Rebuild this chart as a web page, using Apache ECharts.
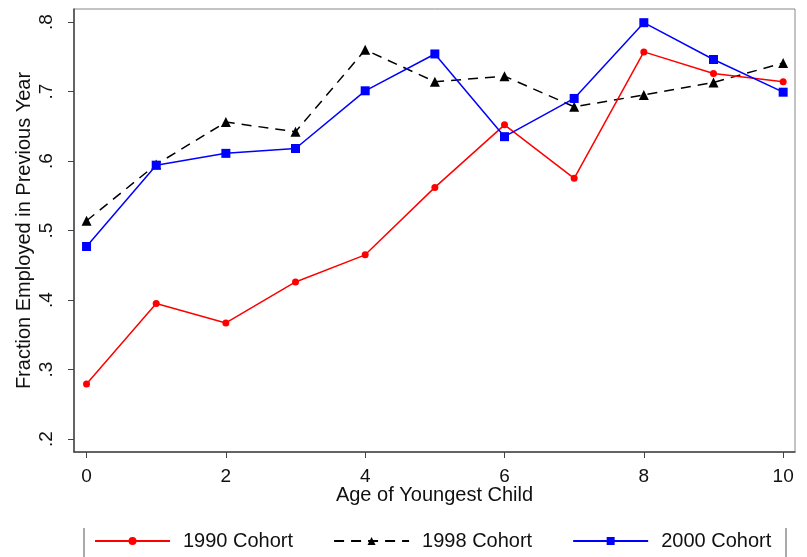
<!DOCTYPE html>
<html>
<head>
<meta charset="utf-8">
<script src="https://cdn.jsdelivr.net/npm/echarts@6/dist/echarts.min.js"></script>
<style>html,body{margin:0;padding:0;background:#fff}#c{width:807px;height:557px}</style>
</head>
<body>
<div id="c"></div>
<script>
var ages = [0, 1, 2, 3, 4, 5, 6, 7, 8, 9, 10];
var cohort1990 = [0.279, 0.395, 0.367, 0.426, 0.465, 0.562, 0.652, 0.575, 0.757, 0.726, 0.714];
var cohort1998 = [0.514, 0.595, 0.656, 0.642, 0.760, 0.714, 0.722, 0.678, 0.695, 0.713, 0.741];
var cohort2000 = [0.477, 0.594, 0.611, 0.618, 0.701, 0.754, 0.635, 0.690, 0.799, 0.746, 0.699];
var xTicks = [0, 2, 4, 6, 8, 10];
var yTicks = [0.2, 0.3, 0.4, 0.5, 0.6, 0.7, 0.8];
var seriesNames = ['1990 Cohort', '1998 Cohort', '2000 Cohort'];

function pairs(v) { return ages.map(function (a, i) { return [a, v[i]]; }); }
var font = 'Liberation Sans, Arial, sans-serif';
var chart = echarts.init(document.getElementById('c'), null, {renderer: 'canvas'});
chart.setOption({
  animation: false,
  backgroundColor: '#fff',
  grid: {left: 74, right: 12, top: 9, bottom: 105, show: true, borderColor: '#888', borderWidth: 1},
  xAxis: {
    type: 'value', min: -0.18, max: 10.17,
    name: 'Age of Youngest Child', nameLocation: 'middle', nameGap: 33, nameMoveOverlap: false,
    nameTextStyle: {fontFamily: font, fontSize: 20, color: '#111'},
    axisLine: {show: true, onZero: false, lineStyle: {color: '#444', width: 1.5}},
    axisTick: {show: true, length: 6, lineStyle: {color: '#444'}, customValues: xTicks},
    axisLabel: {fontFamily: font, fontSize: 19, color: '#111', margin: 15, customValues: xTicks,
      formatter: function (v) { return String(v); }},
    splitLine: {show: false}
  },
  yAxis: {
    type: 'value', min: 0.1813, max: 0.8187,
    name: 'Fraction Employed in Previous Year', nameLocation: 'middle', nameGap: 40, nameMoveOverlap: false,
    nameTextStyle: {fontFamily: font, fontSize: 20, color: '#111'},
    axisLine: {show: true, onZero: false, lineStyle: {color: '#444', width: 1.5}},
    axisTick: {show: true, length: 6, lineStyle: {color: '#444'}, customValues: yTicks},
    axisLabel: {fontFamily: font, fontSize: 19, color: '#111', margin: 18, rotate: 90, customValues: yTicks,
      formatter: function (v) { return '.' + Math.round(v * 10); }},
    splitLine: {show: false}
  },
  legend: {
    left: 89, top: 526, itemWidth: 75, itemHeight: 10, itemGap: 40,
    textStyle: {fontFamily: font, fontSize: 20, color: '#111', padding: [0, 0, 0, 8]},
    data: seriesNames
  },
  graphic: [
    {type: 'line', shape: {x1: 84, y1: 528, x2: 84, y2: 557}, style: {stroke: '#555', lineWidth: 1}},
    {type: 'line', shape: {x1: 786, y1: 528, x2: 786, y2: 557}, style: {stroke: '#555', lineWidth: 1}}
  ],
  series: [
    {name: seriesNames[0], type: 'line', data: pairs(cohort1990), symbol: 'circle', symbolSize: 7,
      itemStyle: {color: '#ff0000'}, lineStyle: {color: '#ff0000', width: 1.5}, z: 3},
    {name: seriesNames[1], type: 'line', data: pairs(cohort1998), symbol: 'triangle', symbolSize: 10,
      itemStyle: {color: '#000'}, lineStyle: {color: '#000', width: 1.5, type: [10, 7]}, z: 2},
    {name: seriesNames[2], type: 'line', data: pairs(cohort2000), symbol: 'rect', symbolSize: 9,
      itemStyle: {color: '#0000ff'}, lineStyle: {color: '#0000ff', width: 1.5}, z: 4}
  ]
});
</script>
</body>
</html>
